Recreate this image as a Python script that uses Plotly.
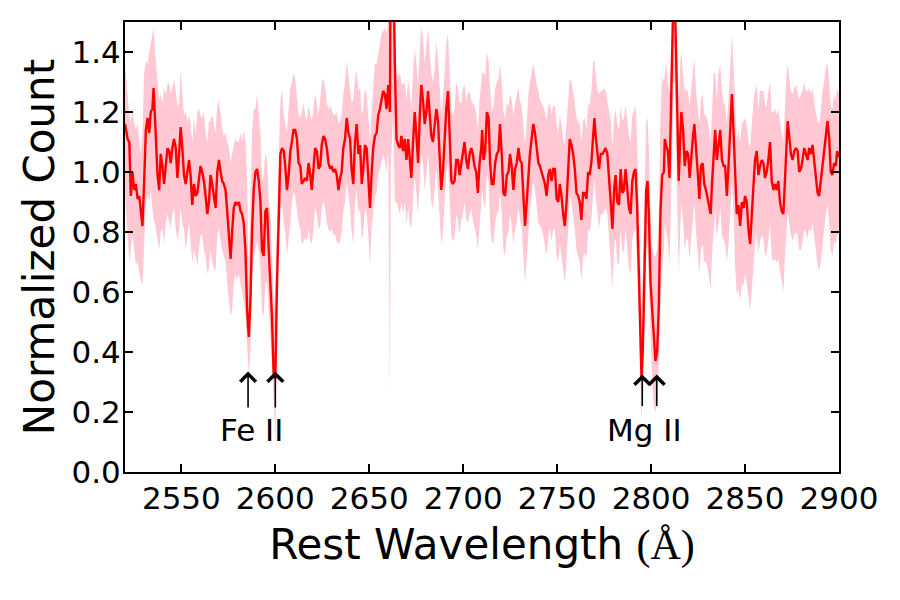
import plotly.graph_objects as go

# ---------------- data ----------------
wavelength = [
    2520.0, 2521.4, 2522.3, 2523.1, 2524.0, 2524.9, 2525.8, 2526.7, 2527.6, 2528.4,
    2529.3, 2530.2, 2531.1, 2532.0, 2532.9, 2533.7, 2534.6, 2535.2, 2535.9, 2536.4,
    2537.3, 2538.2, 2539.0, 2539.9, 2540.8, 2541.7, 2542.6, 2543.5, 2544.3, 2545.2,
    2546.1, 2547.0, 2547.9, 2548.8, 2549.6, 2550.5, 2551.4, 2552.3, 2553.2, 2554.1,
    2554.9, 2555.8, 2556.7, 2557.6, 2558.5, 2559.4, 2560.2, 2561.1, 2562.0, 2562.9,
    2563.8, 2564.7, 2565.5, 2566.4, 2567.3, 2568.2, 2569.1, 2570.0, 2570.9, 2571.7,
    2572.6, 2573.5, 2574.4, 2575.3, 2576.2, 2577.0, 2577.9, 2578.8, 2579.7, 2580.6,
    2581.5, 2582.3, 2583.2, 2584.1, 2585.0, 2585.9, 2586.8, 2587.6, 2588.5, 2589.4,
    2590.3, 2591.2, 2592.1, 2592.9, 2593.8, 2594.7, 2595.6, 2596.5, 2597.4, 2598.2,
    2599.1, 2600.0, 2600.9, 2601.8, 2602.7, 2603.6, 2604.5, 2605.3, 2606.2, 2607.1,
    2608.0,
    2608.8, 2609.7, 2610.6, 2611.5, 2612.4, 2613.3, 2614.1, 2615.0, 2615.9, 2616.8,
    2617.7, 2618.6, 2619.4, 2620.3, 2621.2, 2622.1, 2623.0, 2623.9, 2624.7, 2625.6,
    2626.5, 2627.4, 2628.3, 2629.2, 2630.0, 2630.9, 2631.8, 2632.7, 2633.6, 2634.5,
    2635.3, 2636.2, 2637.1, 2638.0, 2638.9, 2639.8, 2640.6, 2641.5, 2642.4, 2643.3,
    2644.2, 2645.1, 2646.0, 2646.8, 2647.7, 2648.6, 2649.5, 2650.4, 2651.2, 2652.1,
    2653.0, 2653.9, 2654.8, 2655.7, 2656.5, 2657.4, 2658.3, 2659.2, 2660.1, 2661.0,
    2661.4, 2662.6, 2663.6, 2664.5, 2665.4, 2666.3, 2667.1, 2668.0, 2668.9, 2669.8,
    2670.7, 2671.6, 2672.4, 2673.3, 2674.2, 2675.1, 2676.0, 2676.9, 2677.7, 2678.6,
    2679.5, 2680.4, 2681.3, 2682.2, 2683.0, 2683.9, 2684.8, 2685.7, 2686.6, 2687.5,
    2688.3, 2689.2, 2690.1, 2691.0, 2691.9, 2692.8, 2693.7, 2694.5, 2695.4, 2696.3,
    2697.2, 2698.1,
    2699.0, 2699.8, 2700.7, 2701.6, 2702.5, 2703.4, 2704.3, 2705.1, 2706.0, 2706.9,
    2707.8, 2708.7, 2709.6, 2710.1, 2710.8, 2711.7, 2712.6, 2713.5, 2714.3, 2715.2,
    2716.1, 2717.0, 2717.9, 2718.8, 2719.6, 2720.5, 2721.4, 2722.3, 2723.2, 2724.1,
    2724.9, 2725.8, 2726.7, 2727.6, 2728.5, 2729.4, 2730.2, 2731.1, 2732.0, 2732.9,
    2733.8, 2734.7, 2735.5, 2736.4, 2737.3, 2738.2, 2739.1, 2740.0, 2740.8, 2741.7,
    2742.6, 2743.5, 2744.4, 2745.3, 2746.1, 2747.0, 2747.9, 2748.8, 2749.7, 2750.6,
    2751.4, 2752.3, 2753.2, 2754.1, 2755.0, 2755.9, 2756.7, 2757.6, 2758.5, 2759.4,
    2760.3, 2761.2, 2762.0, 2762.9, 2763.8, 2764.7, 2765.6, 2766.5, 2767.3, 2768.2,
    2769.1, 2769.8, 2770.5, 2771.4, 2772.3, 2773.2, 2774.1, 2775.0, 2775.8, 2776.7,
    2777.6, 2778.5, 2779.4, 2780.3, 2781.1, 2782.0, 2782.9, 2783.8, 2784.7, 2785.5,
    2786.4, 2787.3, 2788.2, 2789.1, 2790.0, 2790.9, 2791.7, 2792.6, 2793.5, 2794.4,
    2794.9, 2795.6, 2796.5, 2797.4, 2798.1,
    2798.8, 2799.7, 2800.6, 2801.5, 2802.3, 2803.2, 2804.1, 2805.0, 2805.9, 2806.8,
    2807.3, 2808.0, 2808.9, 2809.8, 2810.6, 2811.2, 2811.9, 2812.6, 2813.3, 2813.8,
    2814.7, 2815.6, 2816.1, 2817.0, 2817.9, 2818.8, 2819.7, 2820.5, 2821.4, 2822.3,
    2823.0, 2823.9, 2824.8, 2825.7, 2826.5, 2827.4, 2828.3, 2829.2, 2830.1, 2831.0,
    2831.7, 2832.4, 2833.3, 2834.1, 2835.0, 2835.9, 2836.8, 2837.7, 2838.6, 2839.4,
    2840.3, 2841.2, 2842.1, 2843.0, 2843.9, 2844.7, 2845.6, 2846.5, 2847.4, 2848.3,
    2849.2, 2850.0, 2850.9, 2851.8, 2852.7, 2853.6, 2854.5, 2855.3, 2856.2, 2857.1,
    2858.0, 2858.9, 2859.8, 2860.6, 2861.5, 2862.4, 2863.3, 2864.2, 2865.1, 2865.9,
    2866.8, 2867.7, 2868.6, 2869.5, 2870.4, 2871.2, 2872.1, 2872.7, 2873.5, 2874.4,
    2875.3, 2876.2, 2877.1, 2878.0, 2878.8, 2879.7, 2880.6, 2881.5, 2882.4, 2883.3,
    2884.1, 2885.0, 2885.9, 2886.8, 2887.7, 2888.6, 2889.4, 2890.3, 2891.2, 2892.1,
    2893.0, 2893.9, 2894.8, 2895.6, 2896.5, 2897.4, 2898.3, 2899.0, 2900.0,
]

flux = [
    1.16, 1.11, 1.10, 0.92, 1.00, 0.94, 0.96, 0.91, 0.92, 0.86,
    0.82, 0.97, 1.14, 1.18, 1.13, 1.20, 1.21, 1.28, 1.20, 1.12,
    0.99, 0.94, 1.06, 1.02, 0.96, 1.01, 1.08, 1.07, 1.03, 1.08,
    1.11, 1.08, 0.98, 1.06, 1.15, 1.08, 0.99, 0.96, 1.01, 1.04,
    0.99, 0.89, 0.96, 0.92, 0.93, 0.98, 1.02, 1.00, 0.97, 0.92,
    0.86, 0.90, 0.99, 0.96, 0.91, 0.88, 1.00, 1.04, 1.00, 0.97,
    0.96, 0.94, 0.87, 0.80, 0.71, 0.80, 0.88, 0.90, 0.89, 0.90,
    0.87, 0.86, 0.83, 0.74, 0.54, 0.45, 0.58, 0.80, 0.94, 1.00,
    1.01, 0.97, 0.90, 0.74, 0.72, 0.87, 0.88, 0.74, 0.63, 0.52,
    0.33, 0.31, 0.63, 0.88, 1.06, 1.08, 1.07, 1.02, 0.94, 0.99,
    1.07,
    1.10, 1.14, 1.14, 1.11, 1.03, 1.02, 0.96, 0.97, 0.98, 0.97,
    1.03, 0.99, 0.94, 1.01, 1.08, 1.07, 1.01, 1.02, 1.09, 1.12,
    1.11, 1.08, 1.03, 1.01, 1.02, 1.00, 1.01, 0.99, 0.94, 0.98,
    1.00, 1.08, 1.11, 1.18, 1.13, 1.11, 1.01, 0.96, 1.10, 1.16,
    1.06, 1.09, 0.96, 1.01, 1.09, 1.08, 0.98, 0.88, 0.99, 1.08,
    1.12, 1.13, 1.19, 1.21, 1.24, 1.27, 1.26, 1.21, 1.29, 1.20,
    1.80, 1.80, 1.36, 1.11, 1.09, 1.08, 1.12, 1.07, 1.11, 1.04,
    1.11, 1.03, 0.98, 1.10, 1.20, 1.12, 1.03, 1.19, 1.29, 1.24,
    1.16, 1.20, 1.27, 1.19, 1.12, 1.10, 1.16, 1.21, 1.17, 1.02,
    0.94, 1.00, 1.11, 1.21, 1.27, 1.13, 0.97, 0.96, 0.97, 1.04,
    1.04, 0.99,
    1.03, 1.06, 1.10, 1.04, 1.01, 1.06, 1.08, 1.06, 1.02, 1.00,
    0.93, 1.03, 1.08, 1.14, 1.04, 1.07, 1.20, 1.18, 1.03, 0.96,
    0.96, 1.03, 1.06, 1.07, 1.16, 1.06, 0.93, 0.92, 0.99, 1.00,
    1.06, 1.02, 0.94, 1.01, 1.03, 1.08, 1.04, 1.03, 0.93, 0.82,
    0.90, 1.01, 1.06, 1.11, 1.16, 1.13, 1.08, 1.03, 1.02, 1.00,
    0.98, 0.96, 0.92, 0.99, 1.01, 0.97, 1.01, 1.01, 0.91, 0.90,
    0.96, 0.92, 0.86, 0.82, 0.90, 1.02, 1.11, 1.09, 1.06, 1.01,
    0.93, 0.92, 0.90, 0.84, 0.93, 0.93, 0.91, 1.00, 0.99, 1.03,
    1.11, 1.18, 1.12, 1.06, 1.01, 1.06, 1.06, 1.07, 1.08, 1.06,
    0.99, 0.90, 0.81, 0.94, 0.99, 0.90, 0.89, 1.01, 0.93, 0.94,
    1.01, 0.94, 0.88, 0.86, 0.97, 1.00, 1.01, 0.88, 0.63, 0.41,
    0.31, 0.41, 0.69, 0.94, 0.97,
    0.86, 0.63, 0.54, 0.42, 0.37, 0.40, 0.55, 0.87, 0.99, 1.00,
    1.11, 1.09, 1.07, 0.98, 1.16, 1.38, 1.60, 1.60, 1.36, 1.19,
    0.97, 1.13, 1.20, 1.14, 1.02, 1.07, 1.06, 0.98, 1.06, 1.12,
    1.16, 1.06, 1.00, 0.91, 1.02, 1.03, 0.96, 0.94, 0.91, 0.87,
    0.86, 0.96, 1.06, 1.14, 1.04, 1.10, 1.14, 1.04, 1.02, 1.02,
    0.92, 1.02, 1.12, 1.26, 1.13, 0.97, 0.86, 0.89, 0.82, 0.90,
    0.88, 0.92, 0.90, 0.81, 0.76, 0.86, 0.97, 1.04, 1.07, 0.99,
    1.02, 1.04, 1.03, 0.98, 1.00, 1.04, 1.10, 0.97, 0.94, 0.96,
    0.94, 0.97, 0.90, 0.87, 0.86, 0.99, 1.09, 1.17, 1.12, 1.06,
    1.04, 1.07, 1.08, 1.07, 1.00, 1.01, 1.04, 1.08, 1.06, 1.04,
    1.08, 1.06, 1.09, 1.04, 0.99, 0.93, 0.92, 0.97, 1.03, 1.08,
    1.13, 1.17, 1.11, 1.00, 0.99, 1.03, 1.02, 1.07, 1.05,
]

flux_upper = [
    1.36, 1.27, 1.19, 1.17, 1.20, 1.16, 1.14, 1.16, 1.10, 1.06,
    1.13, 1.33, 1.37, 1.36, 1.40, 1.43, 1.46, 1.48, 1.41, 1.36,
    1.30, 1.24, 1.26, 1.23, 1.28, 1.26, 1.29, 1.30, 1.26, 1.28,
    1.31, 1.27, 1.22, 1.23, 1.34, 1.26, 1.19, 1.20, 1.17, 1.19,
    1.16, 1.10, 1.18, 1.13, 1.20, 1.21, 1.19, 1.18, 1.20, 1.13,
    1.10, 1.17, 1.17, 1.19, 1.16, 1.13, 1.22, 1.24, 1.19, 1.14,
    1.12, 1.13, 1.10, 1.08, 1.03, 1.06, 1.09, 1.11, 1.10, 1.10,
    1.13, 1.10, 1.14, 1.10, 0.97, 0.63, 0.86, 1.13, 1.21, 1.21,
    1.26, 1.20, 1.13, 0.97, 0.99, 1.06, 1.04, 0.91, 0.86, 0.74,
    0.52, 0.63, 0.86, 1.08, 1.24, 1.27, 1.19, 1.16, 1.13, 1.21,
    1.28,
    1.30, 1.33, 1.31, 1.24, 1.19, 1.18, 1.21, 1.23, 1.19, 1.17,
    1.22, 1.19, 1.17, 1.21, 1.26, 1.23, 1.19, 1.24, 1.30, 1.31,
    1.28, 1.23, 1.21, 1.22, 1.21, 1.19, 1.19, 1.20, 1.16, 1.17,
    1.19, 1.26, 1.30, 1.37, 1.32, 1.28, 1.23, 1.24, 1.31, 1.34,
    1.27, 1.28, 1.19, 1.21, 1.28, 1.26, 1.19, 1.10, 1.20, 1.28,
    1.36, 1.36, 1.39, 1.43, 1.46, 1.47, 1.48, 1.46, 1.50, 1.60,
    2.00, 2.00, 1.55, 1.33, 1.32, 1.33, 1.30, 1.29, 1.30, 1.24,
    1.31, 1.26, 1.21, 1.34, 1.41, 1.36, 1.29, 1.41, 1.48, 1.45,
    1.36, 1.42, 1.48, 1.39, 1.33, 1.30, 1.34, 1.43, 1.38, 1.28,
    1.19, 1.24, 1.33, 1.43, 1.46, 1.33, 1.21, 1.19, 1.21, 1.30,
    1.28, 1.23,
    1.23, 1.28, 1.29, 1.24, 1.26, 1.27, 1.24, 1.23, 1.22, 1.20,
    1.14, 1.24, 1.30, 1.33, 1.33, 1.32, 1.40, 1.37, 1.28, 1.20,
    1.22, 1.28, 1.30, 1.31, 1.36, 1.30, 1.20, 1.18, 1.23, 1.22,
    1.26, 1.24, 1.19, 1.23, 1.26, 1.28, 1.24, 1.22, 1.16, 1.09,
    1.16, 1.26, 1.30, 1.33, 1.36, 1.33, 1.29, 1.27, 1.24, 1.23,
    1.22, 1.20, 1.17, 1.22, 1.23, 1.19, 1.22, 1.22, 1.16, 1.13,
    1.19, 1.16, 1.11, 1.09, 1.17, 1.24, 1.31, 1.30, 1.27, 1.23,
    1.18, 1.17, 1.16, 1.10, 1.17, 1.18, 1.14, 1.23, 1.22, 1.27,
    1.37, 1.37, 1.32, 1.27, 1.26, 1.27, 1.27, 1.28, 1.27, 1.24,
    1.21, 1.17, 1.08, 1.18, 1.21, 1.16, 1.14, 1.22, 1.17, 1.18,
    1.22, 1.18, 1.12, 1.10, 1.19, 1.21, 1.22, 1.10, 0.86, 0.63,
    0.52, 0.69, 0.91, 1.17, 1.18,
    1.08, 0.86, 0.74, 0.72, 0.72, 0.74, 0.86, 1.19, 1.32, 1.30,
    1.33, 1.36, 1.30, 1.26, 1.36, 1.50, 1.85, 1.85, 1.46, 1.36,
    1.24, 1.37, 1.40, 1.33, 1.27, 1.28, 1.26, 1.22, 1.28, 1.35,
    1.38, 1.27, 1.22, 1.16, 1.24, 1.26, 1.19, 1.19, 1.17, 1.12,
    1.10, 1.19, 1.33, 1.33, 1.24, 1.33, 1.36, 1.27, 1.23, 1.22,
    1.16, 1.24, 1.36, 1.46, 1.35, 1.20, 1.10, 1.14, 1.10, 1.16,
    1.17, 1.18, 1.16, 1.10, 1.08, 1.16, 1.24, 1.27, 1.29, 1.21,
    1.27, 1.27, 1.27, 1.22, 1.22, 1.27, 1.30, 1.20, 1.20, 1.21,
    1.19, 1.21, 1.16, 1.13, 1.10, 1.21, 1.33, 1.36, 1.31, 1.27,
    1.26, 1.28, 1.29, 1.26, 1.24, 1.26, 1.27, 1.30, 1.27, 1.27,
    1.28, 1.26, 1.28, 1.23, 1.20, 1.17, 1.16, 1.20, 1.27, 1.30,
    1.35, 1.36, 1.30, 1.22, 1.21, 1.26, 1.24, 1.28, 1.26,
]

flux_lower = [
    0.92, 0.77, 0.70, 0.74, 0.79, 0.74, 0.69, 0.70, 0.66, 0.64,
    0.62, 0.74, 0.90, 0.93, 0.90, 0.94, 0.86, 0.84, 0.83, 0.81,
    0.77, 0.74, 0.80, 0.81, 0.76, 0.83, 0.86, 0.83, 0.81, 0.86,
    0.88, 0.81, 0.77, 0.81, 0.88, 0.83, 0.81, 0.74, 0.79, 0.83,
    0.77, 0.70, 0.74, 0.72, 0.69, 0.74, 0.79, 0.79, 0.74, 0.72,
    0.66, 0.68, 0.74, 0.70, 0.68, 0.67, 0.79, 0.81, 0.77, 0.74,
    0.72, 0.70, 0.63, 0.58, 0.52, 0.54, 0.63, 0.66, 0.64, 0.66,
    0.63, 0.60, 0.57, 0.52, 0.41, 0.32, 0.41, 0.63, 0.72, 0.74,
    0.77, 0.74, 0.68, 0.54, 0.52, 0.63, 0.63, 0.54, 0.47, 0.36,
    0.25, 0.10, 0.52, 0.74, 0.86, 0.90, 0.83, 0.80, 0.72, 0.77,
    0.83,
    0.90, 0.93, 0.92, 0.88, 0.83, 0.81, 0.76, 0.77, 0.78, 0.77,
    0.81, 0.77, 0.76, 0.81, 0.88, 0.86, 0.81, 0.82, 0.88, 0.90,
    0.88, 0.83, 0.81, 0.80, 0.81, 0.79, 0.79, 0.77, 0.76, 0.77,
    0.80, 0.87, 0.90, 0.97, 0.92, 0.88, 0.80, 0.76, 0.90, 0.94,
    0.86, 0.88, 0.77, 0.80, 0.88, 0.86, 0.79, 0.69, 0.81, 0.88,
    0.92, 0.93, 0.99, 1.01, 1.04, 1.06, 1.04, 1.00, 1.07, 0.25,
    1.00, 1.20, 0.90, 0.90, 0.88, 0.86, 0.90, 0.86, 0.90, 0.83,
    0.88, 0.83, 0.81, 0.90, 0.99, 0.93, 0.86, 0.98, 1.06, 1.03,
    0.94, 1.00, 1.06, 0.97, 0.90, 0.88, 0.94, 1.01, 0.94, 0.83,
    0.76, 0.80, 0.90, 1.00, 1.03, 0.90, 0.79, 0.77, 0.78, 0.86,
    0.84, 0.79,
    0.84, 0.86, 0.90, 0.84, 0.83, 0.86, 0.88, 0.84, 0.81, 0.79,
    0.74, 0.83, 0.88, 0.94, 0.90, 0.88, 0.99, 0.97, 0.83, 0.77,
    0.76, 0.83, 0.86, 0.87, 0.94, 0.86, 0.74, 0.72, 0.79, 0.80,
    0.86, 0.82, 0.76, 0.81, 0.83, 0.88, 0.84, 0.82, 0.72, 0.63,
    0.71, 0.82, 0.87, 0.92, 0.97, 0.94, 0.88, 0.83, 0.82, 0.81,
    0.79, 0.76, 0.72, 0.79, 0.81, 0.77, 0.81, 0.81, 0.72, 0.70,
    0.76, 0.72, 0.67, 0.63, 0.71, 0.83, 0.92, 0.90, 0.86, 0.81,
    0.74, 0.72, 0.70, 0.64, 0.72, 0.73, 0.71, 0.81, 0.80, 0.84,
    0.92, 0.98, 0.92, 0.86, 0.81, 0.86, 0.86, 0.87, 0.88, 0.86,
    0.79, 0.70, 0.61, 0.74, 0.79, 0.70, 0.69, 0.81, 0.73, 0.74,
    0.81, 0.74, 0.68, 0.66, 0.77, 0.80, 0.81, 0.69, 0.47, 0.30,
    0.18, 0.24, 0.47, 0.74, 0.76,
    0.61, 0.41, 0.30, 0.22, 0.20, 0.22, 0.36, 0.58, 0.69, 0.74,
    0.83, 0.80, 0.77, 0.69, 0.88, 1.05, 1.30, 1.30, 1.08, 0.91,
    0.66, 0.83, 0.90, 0.84, 0.74, 0.78, 0.77, 0.71, 0.79, 0.86,
    0.90, 0.80, 0.73, 0.66, 0.74, 0.76, 0.70, 0.70, 0.68, 0.63,
    0.61, 0.72, 0.79, 0.88, 0.78, 0.83, 0.88, 0.79, 0.77, 0.76,
    0.70, 0.76, 0.86, 0.97, 0.86, 0.69, 0.59, 0.61, 0.57, 0.63,
    0.62, 0.66, 0.63, 0.59, 0.54, 0.61, 0.70, 0.76, 0.79, 0.73,
    0.77, 0.79, 0.78, 0.72, 0.73, 0.77, 0.83, 0.72, 0.70, 0.71,
    0.70, 0.71, 0.67, 0.63, 0.60, 0.72, 0.82, 0.87, 0.83, 0.79,
    0.77, 0.79, 0.80, 0.79, 0.74, 0.74, 0.77, 0.81, 0.80, 0.78,
    0.81, 0.80, 0.83, 0.79, 0.74, 0.69, 0.67, 0.70, 0.77, 0.81,
    0.86, 0.89, 0.83, 0.74, 0.72, 0.77, 0.76, 0.79, 0.80,
]

# absorption-line markers
line_names = ["Fe II", "Mg II"]
line_label_x = [2587.4, 2796.4]
line_label_y = [0.14, 0.14]
arrow_x = [2585.5, 2600.0, 2795.3, 2803.0]
arrow_head_y = [0.335, 0.335, 0.325, 0.325]
arrow_tail_y = [0.21, 0.21, 0.215, 0.215]

x_ticks = [2550, 2600, 2650, 2700, 2750, 2800, 2850, 2900]
y_ticks = [0.0, 0.2, 0.4, 0.6, 0.8, 1.0, 1.2, 1.4]

FONT = "DejaVu Sans"
PINK = "rgb(255,200,210)"

fig = go.Figure()
fig.add_trace(go.Scatter(x=wavelength, y=flux_lower, mode="lines",
                         line=dict(width=0, color=PINK), showlegend=False,
                         hoverinfo="skip"))
fig.add_trace(go.Scatter(x=wavelength, y=flux_upper, mode="lines",
                         line=dict(width=0, color=PINK), fill="tonexty",
                         fillcolor=PINK, showlegend=False, hoverinfo="skip"))
fig.add_trace(go.Scatter(x=wavelength, y=flux, mode="lines",
                         line=dict(width=2.4, color="#ff0000"),
                         showlegend=False))

annotations = []
for xa, yh, yt in zip(arrow_x, arrow_head_y, arrow_tail_y):
    annotations.append(dict(x=xa, y=yh, ax=xa, ay=yt, xref="x", yref="y",
                            axref="x", ayref="y", showarrow=True, text="",
                            arrowhead=4, arrowsize=1.9, arrowwidth=1.6,
                            arrowcolor="black", standoff=0))
for name, lx, ly in zip(line_names, line_label_x, line_label_y):
    annotations.append(dict(x=lx, y=ly, xref="x", yref="y", text=name,
                            showarrow=False, xanchor="center", yanchor="middle",
                            font=dict(family=FONT, size=31, color="black")))

axis_common = dict(showline=True, linecolor="black", linewidth=2, mirror="ticks",
                   ticks="inside", ticklen=8, tickwidth=1.5, tickcolor="black",
                   showgrid=False, zeroline=False,
                   tickfont=dict(family=FONT, size=31, color="black"))

fig.update_layout(
    width=900, height=600,
    margin=dict(l=125, r=61, t=22, b=128),
    paper_bgcolor="white", plot_bgcolor="white",
    annotations=annotations,
    xaxis=dict(range=[2520, 2900], tickvals=x_ticks, ticklabelstandoff=-2,
               title=dict(text="Rest Wavelength <span style=\"font-family:'Liberation Serif'\">(Å)</span>",
                          font=dict(family=FONT, size=42, color="black"), standoff=14),
               **axis_common),
    yaxis=dict(range=[0, 1.5], tickvals=y_ticks, tickformat=".1f", ticklabelstandoff=-4,
               title=dict(text="Normalized Count",
                          font=dict(family=FONT, size=42, color="black"), standoff=4),
               **axis_common),
)

fig.write_html("out.html")
